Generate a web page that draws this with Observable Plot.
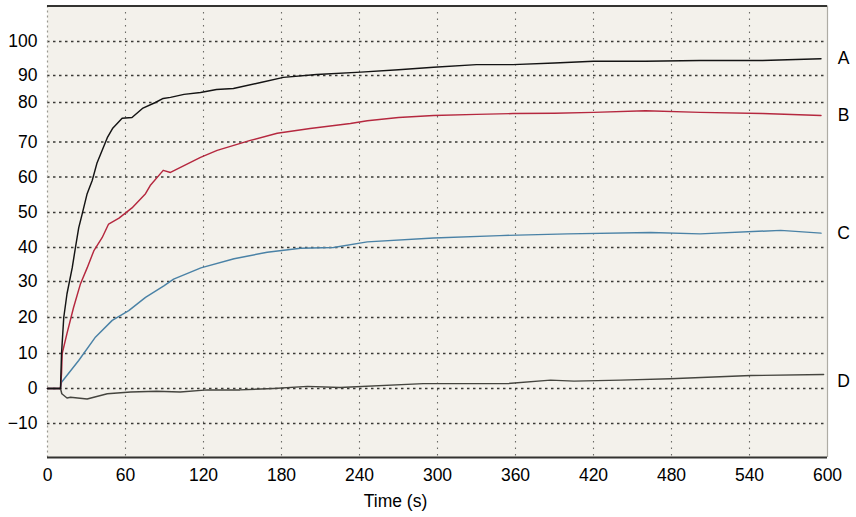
<!DOCTYPE html>
<html>
<head>
<meta charset="utf-8">
<script src="https://cdn.jsdelivr.net/npm/d3@7"></script>
<script src="https://cdn.jsdelivr.net/npm/@observablehq/plot@0.6"></script>
<style>
  body { margin: 0; background: #ffffff; }
  #chart svg { display: block; }
</style>
</head>
<body>
<div id="chart"></div>
<script>
// ---- data ----
const seriesNames = ["A", "B", "C", "D"];

const timeA  = [0, 10, 10.8, 12.5, 15, 19, 21.5, 24, 26.7, 30.5, 34.4, 38, 42, 46, 50, 57.4, 65, 73, 83, 89, 94.6, 105, 117.7, 130, 143, 164, 181.5, 207, 241, 270, 297, 330, 358, 390, 420, 460, 502, 550, 595];
const valueA = [0, 0, 10, 20, 26.6, 34, 40, 45.6, 49.6, 55.3, 59, 63.9, 67.6, 71.1, 73.4, 76, 76.2, 78.5, 80, 81.5, 81.9, 83, 83.7, 84.8, 85.2, 87.4, 89.3, 90.3, 91, 91.7, 92.4, 93.2, 93.2, 93.7, 94.2, 94.2, 94.4, 94.4, 94.9];

const timeB  = [0, 10, 10.8, 11.3, 15, 20, 25.4, 30.5, 35.6, 42, 47, 55, 65, 75.4, 79, 89, 94.6, 117.7, 130.5, 156, 176.7, 202, 233, 246, 270, 297, 330, 358, 390, 420, 460, 502, 550, 595];
const valueB = [0, 0, 4.3, 10, 15.6, 22.7, 29.4, 34, 39, 42.8, 46.7, 48.4, 51.3, 55.3, 57.6, 61.9, 61.3, 65.6, 67.6, 70.4, 72.2, 73.4, 74.7, 75.4, 76.2, 76.7, 77.0, 77.2, 77.3, 77.5, 77.9, 77.5, 77.2, 76.7];

const timeC  = [0, 10, 10.8, 24, 37, 49.8, 62.5, 75.4, 89.5, 97, 118, 143.5, 169, 194.6, 220, 246, 297, 348, 400, 464, 502, 564, 595];
const valueC = [0, 0, 1.8, 8, 14.6, 19.2, 21.9, 25.6, 28.8, 30.7, 34, 36.7, 38.6, 39.8, 40, 41.6, 42.7, 43.4, 43.9, 44.3, 43.9, 44.9, 44.1];

const timeD  = [0, 10, 11, 15, 17.7, 30.5, 46, 64, 84, 102, 123, 148, 174, 200, 225, 289, 354, 387, 405, 441, 479, 541, 597];
const valueD = [0, 0, -1.5, -2.7, -2.5, -3, -1.5, -1, -0.8, -1, -0.4, -0.4, 0, 0.6, 0.3, 1.4, 1.4, 2.4, 2.1, 2.4, 2.8, 3.7, 4];

const xTicks = [0, 60, 120, 180, 240, 300, 360, 420, 480, 540, 600];
const yTicks = [-10, 0, 10, 20, 30, 40, 50, 60, 70, 80, 90, 100];
const xLabel = "Time (s)";

// ---- build table (drawn D first, A last so A sits on top) ----
const times = [timeA, timeB, timeC, timeD];
const values = [valueA, valueB, valueC, valueD];
const rows = [];
[3, 2, 1, 0].forEach(i => {
  times[i].forEach((t, j) => rows.push({series: seriesNames[i], t, v: values[i][j]}));
});
const lastRows = seriesNames.map((name, i) => ({series: name, t: times[i][times[i].length - 1], v: values[i][values[i].length - 1]}));

const colors = {A: "#141414", B: "#b5283f", C: "#4a82a6", D: "#45453f"};

// scanned chart has uneven gridline spacing: piecewise y scale
const yDomain = [-20, -10, 0, 10, 20, 30, 40, 50, 60, 70, 80, 90, 100, 110];
const yRange  = [457, 423, 388, 353, 317, 281, 247, 212, 176.5, 141.5, 102, 75, 41, 5.5];

const chart = Plot.plot({
  width: 856,
  height: 517,
  marginLeft: 47,
  marginRight: 29,
  marginTop: 5.5,
  marginBottom: 60,
  style: {fontFamily: "'Liberation Sans', Arial, sans-serif", fontSize: "17.5px", color: "#000", background: "#ffffff"},
  x: {domain: [0, 600]},
  y: {type: "linear", domain: yDomain, range: yRange},
  marks: [
    Plot.frame({fill: "#f3f1eb", stroke: null}),
    Plot.gridX(xTicks.slice(1, -1), {stroke: "#6b6b66", strokeOpacity: 1, strokeWidth: 1.1, strokeDasharray: "1.5,5"}),
    Plot.gridY(yTicks, {stroke: "#3a3a36", strokeOpacity: 1, strokeWidth: 1.3, strokeDasharray: "2.5,3.5"}),
    Plot.ruleX([0], {stroke: "#9a9890", strokeWidth: 1.2, strokeDasharray: "2,3"}),
    Plot.ruleX([600], {stroke: "#aeaca4", strokeWidth: 1.2}),
    Plot.ruleY([110], {stroke: "#333330", strokeWidth: 2.2}),
    Plot.ruleY([-20], {stroke: "#333330", strokeWidth: 2.2}),
    Plot.line(rows, {x: "t", y: "v", z: "series", stroke: d => colors[d.series], strokeWidth: 1.45, curve: "linear"}),
    Plot.axisX(xTicks, {tickSize: 0, tickPadding: 11, label: null, fill: "#000"}),
    Plot.axisY(yTicks, {tickSize: 0, tickPadding: 10, label: null, fill: "#000"}),
    Plot.text(lastRows.filter(d => d.series !== "D"), {x: 600, y: "v", text: "series", dx: 16, fontSize: 17.5, fill: "#000"}),
    Plot.text(lastRows.filter(d => d.series === "D"), {x: 600, y: "v", text: "series", dx: 16, dy: 7, fontSize: 17.5, fill: "#000"}),
    Plot.text([xLabel], {text: d => d, frameAnchor: "bottom", dx: -42, dy: 49, fontSize: 17.5, fill: "#000"})
  ]
});
document.getElementById("chart").appendChild(chart);
</script>
</body>
</html>
